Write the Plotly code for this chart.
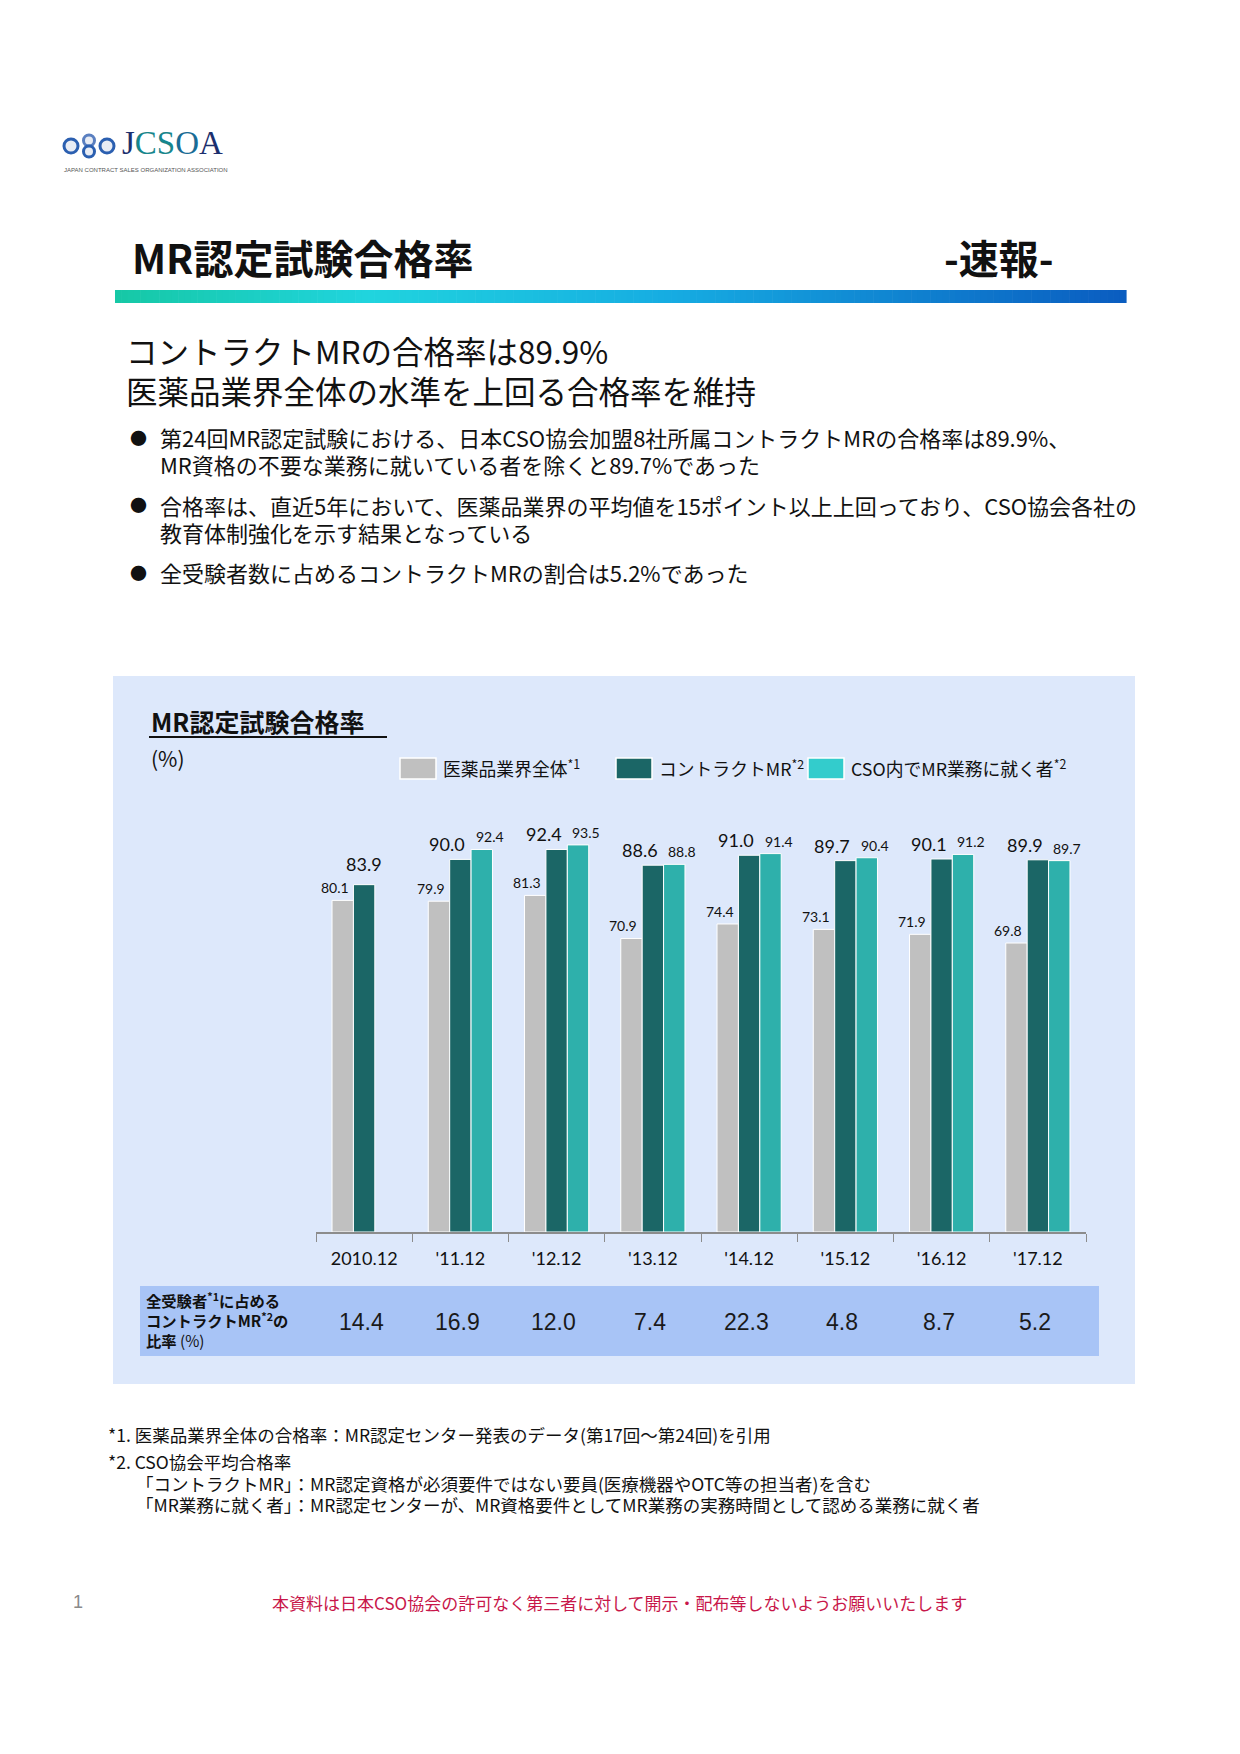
import plotly.graph_objects as go

W, H = 1240, 1754

# ---------------- data ----------------
categories = ["2010.12", "'11.12", "'12.12", "'13.12", "'14.12", "'15.12", "'16.12", "'17.12"]
industry = [80.1, 79.9, 81.3, 70.9, 74.4, 73.1, 71.9, 69.8]
contract_mr = [83.9, 90.0, 92.4, 88.6, 91.0, 89.7, 90.1, 89.9]
mr_duty = [None, 92.4, 93.5, 88.8, 91.4, 90.4, 91.2, 89.7]
share = [14.4, 16.9, 12.0, 7.4, 22.3, 4.8, 8.7, 5.2]
series_names = ["医薬品業界全体", "コントラクトMR", "CSO内でMR業務に就く者"]
series_notes = ["*1", "*2", "*2"]

# ---------------- styles ----------------
bar_colors = ["#c0c0c0", "#1b6666", "#2eb0ab"]
legend_colors = ["#c0c0c0", "#1b6666", "#33cccc"]
JP = "Noto Sans CJK JP"
NUM = "Lato, Noto Sans CJK JP"
TXT = "#111111"


def px(x):
    return x / W


def py(y):
    return 1 - y / H


fig = go.Figure()
for name, vals, col in zip(series_names, [industry, contract_mr, mr_duty], bar_colors):
    fig.add_trace(go.Bar(
        x=categories, y=vals, name=name,
        marker=dict(color=col, line=dict(color="white", width=1)),
        showlegend=False, hoverinfo="x+y",
    ))

shapes = []
annotations = []

# panel background
shapes.append(dict(type="rect", xref="paper", yref="paper", layer="below",
                   x0=px(113), x1=px(1135), y0=py(1384), y1=py(676),
                   fillcolor="#dde8fb", line=dict(width=0)))
# table band
shapes.append(dict(type="rect", xref="paper", yref="paper", layer="below",
                   x0=px(140), x1=px(1099), y0=py(1356), y1=py(1286),
                   fillcolor="#a8c4f6", line=dict(width=0)))

# gradient bar under title
stops = [(0.0, (22, 200, 165)), (0.25, (32, 212, 222)), (0.55, (22, 172, 226)), (1.0, (10, 92, 192))]
nseg = 160
x_start, x_end = 115, 1126
for i in range(nseg):
    t = (i + 0.5) / nseg
    for j in range(len(stops) - 1):
        if stops[j][0] <= t <= stops[j + 1][0]:
            a, ca = stops[j]
            b, cb = stops[j + 1]
            f = (t - a) / (b - a)
            c = tuple(int(round(ca[k] + (cb[k] - ca[k]) * f)) for k in range(3))
            break
    xa = x_start + (x_end - x_start) * i / nseg
    xb = x_start + (x_end - x_start) * (i + 1) / nseg + 0.6
    shapes.append(dict(type="rect", xref="paper", yref="paper",
                       x0=px(xa), x1=px(xb), y0=py(303), y1=py(290),
                       fillcolor="rgb(%d,%d,%d)" % c, line=dict(width=0)))

# logo emblem
for (cx, cy, r, col) in [(71, 146, 7, "#2b5fb0"), (89, 140.5, 5.5, "#5a7fc0"), (89, 151.5, 5.5, "#2b5fb0"), (107, 146, 7, "#2b5fb0")]:
    shapes.append(dict(type="circle", xref="paper", yref="paper",
                       x0=px(cx - r), x1=px(cx + r), y0=py(cy + r), y1=py(cy - r),
                       fillcolor="#e8ecf4", line=dict(color=col, width=3)))
annotations.append(dict(
    text="<span style='color:#1c2f6e'>J</span><span style='color:#17868c'>CS</span><span style='color:#1a6c95'>O</span><span style='color:#1c2f6e'>A</span>",
    x=px(120), y=py(143), xref="paper", yref="paper", xanchor="left", yanchor="middle",
    showarrow=False, font=dict(family="Liberation Serif", size=33)))
annotations.append(dict(text="JAPAN CONTRACT SALES ORGANIZATION ASSOCIATION",
                        x=px(62), y=py(170), xref="paper", yref="paper", xanchor="left", yanchor="middle",
                        showarrow=False, font=dict(family="Liberation Sans", size=6, color="#555555")))

# title
annotations.append(dict(text="<b>MR認定試験合格率</b>", x=px(130), y=py(257), xref="paper", yref="paper",
                        xanchor="left", yanchor="middle", showarrow=False,
                        font=dict(family=JP, size=40, color=TXT)))
annotations.append(dict(text="<b>-速報-</b>", x=px(1056), y=py(257), xref="paper", yref="paper",
                        xanchor="right", yanchor="middle", showarrow=False,
                        font=dict(family=JP, size=40, color=TXT)))

# headline
for txt, yy in [("コントラクトMRの合格率は89.9%", 350), ("医薬品業界全体の水準を上回る合格率を維持", 390)]:
    annotations.append(dict(text=txt, x=px(124), y=py(yy), xref="paper", yref="paper",
                            xanchor="left", yanchor="middle", showarrow=False,
                            font=dict(family=JP, size=31.5, color=TXT)))

# bullets
bullets = [
    ("第24回MR認定試験における、日本CSO協会加盟8社所属コントラクトMRの合格率は89.9%、",
     "MR資格の不要な業務に就いている者を除くと89.7%であった", 437),
    ("合格率は、直近5年において、医薬品業界の平均値を15ポイント以上上回っており、CSO協会各社の",
     "教育体制強化を示す結果となっている", 505),
    ("全受験者数に占めるコントラクトMRの割合は5.2%であった", None, 572),
]
for l1, l2, yy in bullets:
    annotations.append(dict(text="●", x=px(128), y=py(yy), xref="paper", yref="paper",
                            xanchor="left", yanchor="middle", showarrow=False,
                            font=dict(family=JP, size=17, color=TXT)))
    annotations.append(dict(text=l1, x=px(158), y=py(yy), xref="paper", yref="paper",
                            xanchor="left", yanchor="middle", showarrow=False,
                            font=dict(family=JP, size=22, color=TXT)))
    if l2:
        annotations.append(dict(text=l2, x=px(158), y=py(yy + 27), xref="paper", yref="paper",
                                xanchor="left", yanchor="middle", showarrow=False,
                                font=dict(family=JP, size=22, color=TXT)))

# panel heading
annotations.append(dict(text="<b>MR認定試験合格率</b>", x=px(149), y=py(721), xref="paper", yref="paper",
                        xanchor="left", yanchor="middle", showarrow=False,
                        font=dict(family=JP, size=25, color=TXT)))
shapes.append(dict(type="line", xref="paper", yref="paper", x0=px(149), x1=px(387), y0=py(737), y1=py(737),
                   line=dict(color=TXT, width=2)))
annotations.append(dict(text="(%)", x=px(149), y=py(758), xref="paper", yref="paper",
                        xanchor="left", yanchor="middle", showarrow=False,
                        font=dict(family=JP, size=21, color=TXT)))

# custom legend
leg_x = [400, 616, 808]
for name, note, col, lx in zip(series_names, series_notes, legend_colors, leg_x):
    shapes.append(dict(type="rect", xref="paper", yref="paper",
                       x0=px(lx), x1=px(lx + 36), y0=py(779), y1=py(758),
                       fillcolor=col, line=dict(color="white", width=1.5)))
    annotations.append(dict(text=name + "<sup>" + note + "</sup>", x=px(lx + 41), y=py(768),
                            xref="paper", yref="paper", xanchor="left", yanchor="middle",
                            showarrow=False, font=dict(family=JP, size=17.8, color=TXT)))

# data labels (from the series values); x given as category index
bar_step = 21.4
for i, cat in enumerate(categories):
    v = industry[i]
    annotations.append(dict(text="%.1f" % v, x=i, y=v, xref="x", yref="y",
                            xshift=-bar_step - 8, yshift=2, yanchor="bottom", showarrow=False,
                            font=dict(family=NUM, size=14, color=TXT)))
    v = contract_mr[i]
    has_third = mr_duty[i] is not None
    annotations.append(dict(text="%.1f" % v, x=i, y=v, xref="x", yref="y",
                            xshift=(-13 if has_third else 0),
                            yshift=(2 if has_third else 8), yanchor="bottom", showarrow=False,
                            font=dict(family=NUM, size=18, color=TXT)))
    v = mr_duty[i]
    if v is not None:
        annotations.append(dict(text="%.1f" % v, x=i, y=v, xref="x", yref="y",
                                xshift=bar_step + 8, yshift=2, yanchor="bottom", showarrow=False,
                                font=dict(family=NUM, size=14, color=TXT)))
    # table values
    annotations.append(dict(text="%.1f" % share[i], x=i, y=py(1322), xref="x", yref="paper",
                            xshift=-3, yanchor="middle", showarrow=False,
                            font=dict(family="Liberation Sans", size=23, color="#1a1a1a")))

# table row label (three lines, tight spacing)
row_label = ["<b>全受験者<sup>*1</sup>に占める</b>", "<b>コントラクトMR<sup>*2</sup>の</b>", "<b>比率</b> (%)"]
for txt, yy in zip(row_label, [1300, 1320, 1340]):
    annotations.append(dict(text=txt, x=px(144), y=py(yy), xref="paper", yref="paper",
                            xanchor="left", yanchor="middle", align="left", showarrow=False,
                            font=dict(family=JP, size=15.3, color=TXT)))

# footnotes
foot = [
    ("*1. 医薬品業界全体の合格率：MR認定センター発表のデータ(第17回～第24回)を引用", 106, 1434),
    ("*2. CSO協会平均合格率", 106, 1461),
    ("「コントラクトMR」：MR認定資格が必須要件ではない要員(医療機器やOTC等の担当者)を含む", 134, 1483),
    ("「MR業務に就く者」：MR認定センターが、MR資格要件としてMR業務の実務時間として認める業務に就く者", 134, 1504),
]
for txt, xx, yy in foot:
    annotations.append(dict(text=txt, x=px(xx), y=py(yy), xref="paper", yref="paper",
                            xanchor="left", yanchor="middle", showarrow=False,
                            font=dict(family=JP, size=17.5, color=TXT)))

# footer
annotations.append(dict(text="1", x=px(78), y=py(1602), xref="paper", yref="paper",
                        xanchor="center", yanchor="middle", showarrow=False,
                        font=dict(family="Liberation Sans", size=18, color="#8a8a8a")))
annotations.append(dict(text="本資料は日本CSO協会の許可なく第三者に対して開示・配布等しないようお願いいたします",
                        x=px(619), y=py(1602), xref="paper", yref="paper",
                        xanchor="center", yanchor="middle", showarrow=False,
                        font=dict(family=JP, size=17, color="#c8174a")))

fig.update_layout(
    width=W, height=H,
    margin=dict(l=0, r=0, t=0, b=0),
    paper_bgcolor="white", plot_bgcolor="rgba(0,0,0,0)",
    barmode="group", bargap=0.333, bargroupgap=0.0,
    xaxis=dict(domain=[px(316), px(1086)], type="category", tickson="boundaries",
               range=[-0.5, len(categories) - 0.5], autorange=False,
               categoryorder="array", categoryarray=categories,
               ticks="outside", ticklen=8, tickcolor="#8c8c8c", tickwidth=1.2,
               ticklabelstandoff=10,
               showline=True, linecolor="#8c8c8c", linewidth=1.5, showgrid=False,
               tickfont=dict(family=NUM, size=18, color=TXT), fixedrange=True),
    yaxis=dict(domain=[py(1232), py(818)], range=[0, 100], visible=False, fixedrange=True),
    shapes=shapes, annotations=annotations,
    showlegend=False,
)

fig.write_html("out.html")
